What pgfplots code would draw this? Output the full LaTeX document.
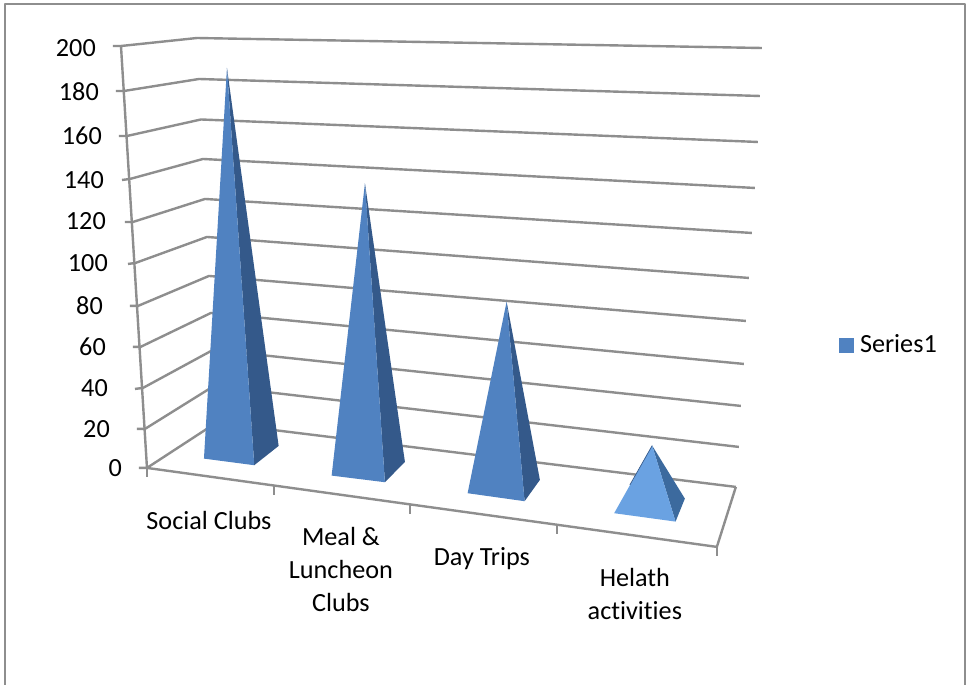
\documentclass[border=0pt]{standalone}
\usepackage{fontspec}
\setmainfont[Ligatures=NoCommon]{Carlito}
\usepackage{pgfplots}
\pgfplotsset{compat=1.18}
\definecolor{gridc}{HTML}{8E8E8E}
\definecolor{frontc}{HTML}{5082C1}
\definecolor{sidec}{HTML}{34598A}
\definecolor{frontl}{HTML}{6AA2E2}
\definecolor{sidel}{HTML}{3C6A9E}
\pgfplotsset{
  gl/.style={draw=gridc,line width=2.4pt,line join=round,no markers},
  face/.style={draw=none,no markers},
}
\newcommand{\lab}[4][center]{\node[anchor=#1,inner sep=0pt,font=\fontsize{26.2}{30}\selectfont] at (axis cs:#2,#3) {#4};}
\begin{document}
\begin{tikzpicture}
% axis runs in reference pixels, y downwards
\begin{axis}[
  scale only axis,width=966pt,height=685pt,
  xmin=0,xmax=966,ymin=0,ymax=685,y dir=reverse,
  hide axis,clip=false]
\addplot[draw=none,fill=white,no markers] coordinates {(0,0)(966,0)(966,685)(0,685)} -- cycle;
% chart frame
\addplot[gl,line cap=butt] coordinates {(5,685)(5,4)(965,4)(965,685)};
% walls: tick, side wall, back wall for 200 down to 0
\addplot[gl] coordinates {(113,46)(121,46)(197,38)(762,48)};
\addplot[gl] coordinates {(116,91)(124,91)(199,79)(760,96)};
\addplot[gl] coordinates {(119,136)(127,136)(201,119.5)(758,142)};
\addplot[gl] coordinates {(122,180)(130,179)(203,159)(755,188)};
\addplot[gl] coordinates {(125,222)(133,222)(205,199)(752,233)};
\addplot[gl] coordinates {(128,264)(135.5,263)(207,237)(749,278)};
\addplot[gl] coordinates {(130,306)(138,306)(209,276)(746,321)};
\addplot[gl] coordinates {(133,347)(140.5,347)(211,313)(744,364)};
\addplot[gl] coordinates {(135,389)(143,388)(213,350)(741,406)};
\addplot[gl] coordinates {(137,429)(145,429)(214,386)(739,447)};
\addplot[gl] coordinates {(139,468)(147,468)(216,423)(736,487)};
\addplot[gl] coordinates {(121,46)(147,468)};
% floor front edge and ticks
\addplot[gl] coordinates {(147,468)(717,547)(736,487)};
\addplot[gl] coordinates {(147,468)(147,477)};
\addplot[gl] coordinates {(274,486)(274,495)};
\addplot[gl] coordinates {(410,505)(410,514)};
\addplot[gl] coordinates {(557,525)(557,534)};
\addplot[gl] coordinates {(717,547)(717,556)};
% pyramids
\addplot[face,fill=sidec] coordinates {(227,68)(254.3,465.3)(278.7,446)} -- cycle;
\addplot[face,fill=frontc] coordinates {(227,68)(204,458.7)(254.3,465.3)} -- cycle;
\addplot[face,fill=sidec] coordinates {(365,183.3)(385,482.3)(405,462)} -- cycle;
\addplot[face,fill=frontc] coordinates {(365,183.3)(331.7,475.7)(385,482.3)} -- cycle;
\addplot[face,fill=sidec] coordinates {(506.7,301.7)(524.7,501.3)(540,480)} -- cycle;
\addplot[face,fill=frontc] coordinates {(506.7,301.7)(467.7,493.3)(524.7,501.3)} -- cycle;
\addplot[face,fill=sidel] coordinates {(652.3,445.7)(675.7,521.7)(685,498.7)} -- cycle;
\addplot[face,fill=frontl] coordinates {(652.3,445.7)(614.3,513.3)(675.7,521.7)} -- cycle;
\addplot[draw=sidec,line width=0.7pt,no markers] coordinates {(652.3,445.7)(630,485)};
% legend key
\addplot[face,fill=frontc] coordinates {(839,338)(854,338)(854,353)(839,353)} -- cycle;
\lab[west]{860}{344}{Series1}
% tick labels
\lab[east]{96}{48}{200}
\lab[east]{99}{92}{180}
\lab[east]{102}{136}{160}
\lab[east]{104}{180}{140}
\lab[east]{106}{221}{120}
\lab[east]{108}{263}{100}
\lab[east]{103}{306}{80}
\lab[east]{106}{347}{60}
\lab[east]{108}{388}{40}
\lab[east]{110}{429}{20}
\lab[east]{122}{468}{0}
% category labels
\lab{209}{521}{Social Clubs}
\lab{341}{537}{Meal \&}
\lab{341}{570}{Luncheon}
\lab{341}{603}{Clubs}
\lab{482}{558.5}{Day Trips}
\lab{635}{578}{Helath}
\lab{635}{611}{activities}
\end{axis}
\end{tikzpicture}
\end{document}
